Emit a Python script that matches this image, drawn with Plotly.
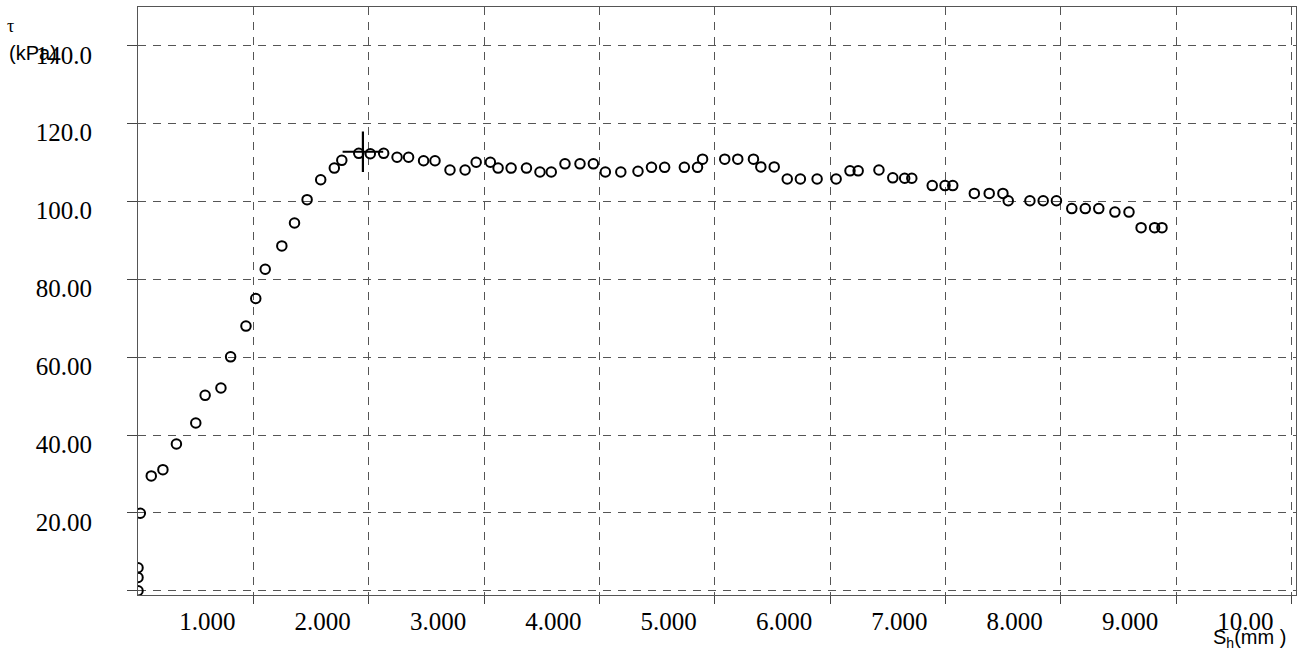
import plotly.graph_objects as go

# Horizontal displacement S_h (mm)
S_h = [0.0, 0.0, 0.0, 0.02, 0.115, 0.216, 0.333, 0.501, 0.582, 0.719,
       0.803, 0.936, 1.021, 1.103, 1.247, 1.357, 1.466, 1.584, 1.702, 1.767,
       1.914, 2.014, 2.13, 2.246,
       2.346, 2.476, 2.575, 2.705, 2.836, 2.932, 3.055, 3.122, 3.235, 3.368,
       3.485, 3.583, 3.702, 3.832, 3.948, 4.052, 4.186, 4.335, 4.452, 4.566,
       4.737, 4.851, 4.895, 5.087, 5.200, 5.336, 5.400, 5.516, 5.629, 5.743,
       5.888, 6.053, 6.173, 6.244, 6.424, 6.544, 6.647, 6.709, 6.886, 6.997,
       7.064, 7.251, 7.380, 7.499, 7.545, 7.733, 7.848, 7.963, 8.096, 8.213,
       8.330, 8.470, 8.592, 8.697, 8.814, 8.878]

# Shear stress tau (kPa)
tau = [0.0, 3.4, 5.9, 19.9, 29.5, 31.1, 37.7, 43.1, 50.2, 52.1,
       60.1, 68.0, 75.1, 82.6, 88.6, 94.5, 100.5, 105.6, 108.6, 110.6,
       112.4, 112.3, 112.4, 111.4,
       111.4, 110.5, 110.5, 108.1, 108.1, 110.1, 110.1, 108.6, 108.6, 108.6,
       107.6, 107.6, 109.7, 109.7, 109.7, 107.6, 107.6, 107.8, 108.8, 108.8,
       108.8, 108.8, 110.9, 110.9, 110.9, 110.9, 108.9, 108.9, 105.8, 105.8,
       105.8, 105.8, 107.9, 107.9, 108.1, 106.1, 106.0, 106.0, 104.1, 104.1,
       104.1, 102.1, 102.1, 102.1, 100.2, 100.2, 100.2, 100.2, 98.2, 98.2,
       98.2, 97.3, 97.3, 93.3, 93.3, 93.3]

# Peak marker
peak_S = [1.95]
peak_tau = [112.8]

x_tickvals = [1, 2, 3, 4, 5, 6, 7, 8, 9, 10]
x_ticktext = ["1.000", "2.000", "3.000", "4.000", "5.000", "6.000",
              "7.000", "8.000", "9.000", "10.00"]
y_tickvals = [0, 20, 40, 60, 80, 100, 120, 140]
y_ticktext = ["", "20.00", "40.00", "60.00", "80.00", "100.0", "120.0", "140.0"]

W, H = 1299, 654
ML, MR, MT, MB = 138, 3, 7, 59
PW, PH = W - ML - MR, H - MT - MB


def px(x):
    return (x - ML) / PW


def py(y):
    return (H - MB - y) / PH


fig = go.Figure()
fig.add_trace(go.Scatter(
    x=S_h, y=tau, mode="markers",
    marker=dict(symbol="circle-open", size=9.5, color="black",
                line=dict(width=2, color="black")),
    showlegend=False, hoverinfo="x+y"))
fig.add_trace(go.Scatter(
    x=peak_S, y=peak_tau, mode="markers",
    marker=dict(symbol="cross-thin-open", size=29, color="black",
                line=dict(width=2.2, color="black")),
    showlegend=False, hoverinfo="skip"))

tickfont = dict(family="Liberation Serif", size=25, color="black")
axis_common = dict(
    showgrid=True, gridcolor="#555555", gridwidth=1, griddash="8px,7px",
    zeroline=False, showline=True, linecolor="#555555", linewidth=1,
    mirror=True, ticks="outside", tickcolor="#444444", tickwidth=1,
    tickfont=tickfont, automargin=False,
)

fig.update_xaxes(range=[0, 10.04], tickmode="array", tickvals=x_tickvals,
                 ticktext=x_ticktext, ticklen=8, ticklabelshift=-46,
                 ticklabelstandoff=-4, **axis_common)
fig.update_yaxes(range=[-1.1, 150], tickmode="array", tickvals=y_tickvals,
                 ticktext=y_ticktext, ticklen=10, ticklabelshift=9,
                 ticklabelstandoff=30, **axis_common)

fig.update_layout(
    width=W, height=H,
    margin=dict(l=ML, r=MR, t=MT, b=MB, pad=0, autoexpand=False),
    plot_bgcolor="white", paper_bgcolor="white",
    annotations=[
        dict(text="τ", x=px(10), y=py(26), xref="paper", yref="paper",
             showarrow=False, xanchor="center", yanchor="middle",
             font=dict(family="Liberation Serif", size=18, color="black")),
        dict(text="(kPa)", x=px(7), y=py(53), xref="paper", yref="paper",
             showarrow=False, xanchor="left", yanchor="middle",
             font=dict(family="Liberation Sans", size=20, color="black")),
        dict(text="S<sub>h</sub>(mm )", x=px(1288), y=py(638), xref="paper",
             yref="paper", showarrow=False, xanchor="right", yanchor="middle",
             font=dict(family="Liberation Sans", size=20, color="black")),
    ],
)

fig.write_html("out.html",
               config={"displayModeBar": False},
               post_script="document.body.style.margin='0';"
                           "document.body.style.overflow='hidden';")
